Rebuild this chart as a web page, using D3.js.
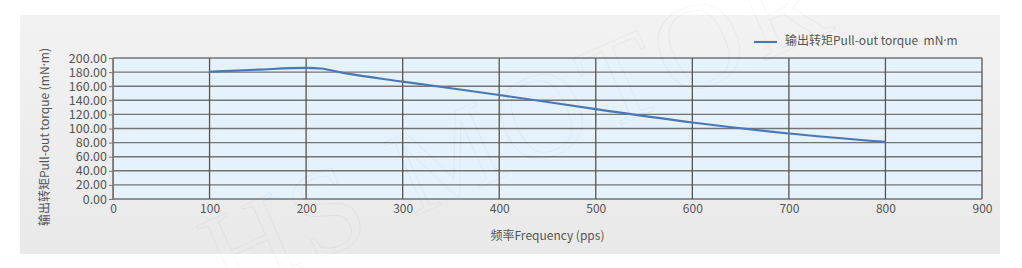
<html>
<head>
<meta charset="utf-8">
<script src="https://d3js.org/d3.v7.min.js"></script>
<style>
  body { margin: 0; background: #fff; }
  text { font-family: "Noto Sans CJK SC", "Noto Sans", sans-serif; }
</style>
</head>
<body>
<script>
// data
var freq   = [100, 150, 200, 215, 240, 300, 400, 500, 600, 700, 800];
var torque = [180.5, 183.5, 186, 185, 178.5, 166.5, 147.5, 127.5, 108.5, 93, 81];
var xTicks = [0, 100, 200, 300, 400, 500, 600, 700, 800, 900];
var yTicks = [0, 20, 40, 60, 80, 100, 120, 140, 160, 180, 200];
var seriesName = "输出转矩Pull-out torque  mN·m";
var xTitle = "频率Frequency (pps)";
var yTitle = "输出转矩Pull-out torque  (mN·m)";

var w = 1022, h = 268;
var plotL = 113, plotR = 982, plotT = 58, plotB = 199;

var svg = d3.select("body").append("svg")
  .attr("width", w).attr("height", h);

// grey panel with a soft gradient
var defs = svg.append("defs");
var grad = defs.append("linearGradient").attr("id", "bg")
  .attr("x1", 0).attr("y1", 0).attr("x2", 0).attr("y2", 1);
grad.append("stop").attr("offset", "0%").attr("stop-color", "#f2f2f2");
grad.append("stop").attr("offset", "100%").attr("stop-color", "#e9e9e9");

svg.append("rect")
  .attr("x", 20).attr("y", 15)
  .attr("width", 980).attr("height", 239)
  .attr("fill", "url(#bg)");

var xScale = d3.scaleLinear().domain([0, 900]).range([plotL, plotR]);
var yScale = d3.scaleLinear().domain([0, 200]).range([plotB, plotT]);

// plot area
svg.append("rect")
  .attr("x", plotL).attr("y", plotT)
  .attr("width", plotR - plotL).attr("height", plotB - plotT)
  .attr("fill", "#e5f1fb");

// horizontal grid
svg.append("g").selectAll("line")
  .data(yTicks).enter().append("line")
  .attr("x1", plotL).attr("x2", plotR)
  .attr("y1", function(d) { return yScale(d); })
  .attr("y2", function(d) { return yScale(d); })
  .attr("stroke", "#747474").attr("stroke-width", 1.4);

// vertical grid
svg.append("g").selectAll("line")
  .data(xTicks).enter().append("line")
  .attr("x1", function(d) { return xScale(d); })
  .attr("x2", function(d) { return xScale(d); })
  .attr("y1", plotT).attr("y2", plotB)
  .attr("stroke", "#555").attr("stroke-width", 1.3);

// watermark
svg.append("text")
  .attr("transform", "translate(522,138) rotate(-24)")
  .attr("text-anchor", "middle")
  .attr("dominant-baseline", "middle")
  .style("font-family", "'Liberation Serif', serif")
  .style("font-size", "122px")
  .style("letter-spacing", "6px")
  .attr("fill", "none")
  .attr("stroke", "#000")
  .attr("stroke-opacity", 0.035)
  .attr("stroke-width", 1.2)
  .text("HS MOTOR");

// axes
var yAxis = d3.axisLeft(yScale).tickValues(yTicks)
  .tickFormat(d3.format(".2f")).tickSize(4).tickPadding(2);
var gy = svg.append("g")
  .attr("transform", "translate(" + plotL + ",0)")
  .call(yAxis);
gy.select(".domain").attr("stroke", "#777");
gy.selectAll(".tick line").attr("stroke", "#777");
gy.selectAll("text").attr("fill", "#555").style("font-size", "12.5px")
  .style("font-family", "'Noto Sans CJK SC', sans-serif");

var xAxis = d3.axisBottom(xScale).tickValues(xTicks).tickSize(0).tickPadding(5);
var gx = svg.append("g")
  .attr("transform", "translate(0," + plotB + ")")
  .call(xAxis);
gx.select(".domain").remove();
gx.selectAll("text").attr("fill", "#555").style("font-size", "12px")
  .style("font-family", "'Noto Sans CJK SC', sans-serif");

// writes a label, keeping the middle dot narrow
function label(sel, str) {
  str.split("·").forEach(function(part, i) {
    if (i > 0) sel.append("tspan").style("font-family", "'Noto Sans', sans-serif").text("·");
    sel.append("tspan").text(part);
  });
  return sel;
}

// axis titles
svg.append("text")
  .attr("x", (plotL + plotR) / 2).attr("y", 240)
  .attr("text-anchor", "middle")
  .attr("fill", "#555").style("font-size", "12px")
  .text(xTitle);

label(svg.append("text")
  .attr("transform", "translate(46,137) rotate(-90)")
  .attr("text-anchor", "middle")
  .attr("dominant-baseline", "middle")
  .attr("fill", "#555").style("font-size", "12px"), yTitle);

// series line
var pts = freq.map(function(f, i) { return [f, torque[i]]; });
var line = d3.line()
  .x(function(d) { return xScale(d[0]); })
  .y(function(d) { return yScale(d[1]); })
  .curve(d3.curveMonotoneX);

svg.append("path")
  .datum(pts)
  .attr("d", line)
  .attr("fill", "none")
  .attr("stroke", "#4a78b5")
  .attr("stroke-width", 2.1);

// legend
svg.append("line")
  .attr("x1", 754).attr("x2", 777)
  .attr("y1", 42).attr("y2", 42)
  .attr("stroke", "#4a78b5").attr("stroke-width", 2.1);
label(svg.append("text")
  .attr("x", 785).attr("y", 42)
  .attr("dominant-baseline", "middle")
  .attr("fill", "#555").style("font-size", "12px")
  .style("white-space", "pre"), seriesName);
</script>
</body>
</html>
